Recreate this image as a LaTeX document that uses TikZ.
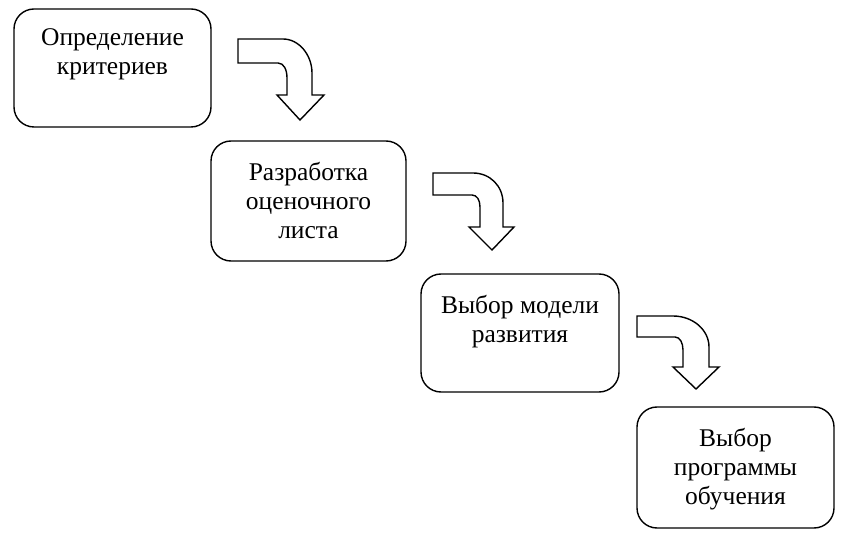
\documentclass[tikz,border=0pt]{standalone}
\usepackage{fontspec}
\setmainfont{Liberation Serif}
\begin{document}
\begin{tikzpicture}[x=1pt,y=-1pt,
  stepbox/.style={draw=black,line width=1.4pt,rounded corners=20pt},
  steptext/.style={anchor=north,align=center,inner sep=0pt,font=\fontsize{25.5}{29}\selectfont},
  bendarrow/.style={draw=black,line width=1.4pt,fill=white,line join=miter}]
\useasboundingbox (0,0) rectangle (851,534);
% boxes
\draw[stepbox] (14,9) rectangle (211,127);
\draw[stepbox] (211,141) rectangle (406,261);
\draw[stepbox] (421,274) rectangle (619,392);
\draw[stepbox] (637,407) rectangle (834,528);
\node[steptext] (t1) at (112.5,28) {Определение\\критериев};
\node[steptext] (t2) at (308.5,162) {Разработка\\оценочного\\листа};
\node[steptext] (t3) at (520,295) {Выбор модели\\развития};
\node[steptext] (t4) at (735.5,428) {Выбор\\программы\\обучения};
% bent arrows
\draw[bendarrow] (238,39) -- (283,39) .. controls (299,39) and (312,55) .. (312,73)
  -- (312,95) -- (324,95) -- (300,120) -- (277,95) -- (287,95) -- (287,78)
  .. controls (287,70) and (284,63) .. (278,63) -- (238,63) -- cycle;
\draw[bendarrow] (433,173) -- (473,173) .. controls (490,173) and (503,186) .. (503,203)
  -- (503,227) -- (514,227) -- (492,250) -- (469,227) -- (480,227) -- (480,207)
  .. controls (480,200) and (477,195) .. (472,195) -- (433,195) -- cycle;
\draw[bendarrow] (637,316) -- (673,316) .. controls (693,316) and (709,330) .. (709,347)
  -- (709,367) -- (719,367) -- (696,389) -- (673,367) -- (683,367) -- (683,350)
  .. controls (683,343) and (680,337) .. (675,337) -- (637,337) -- cycle;
\end{tikzpicture}
\end{document}
